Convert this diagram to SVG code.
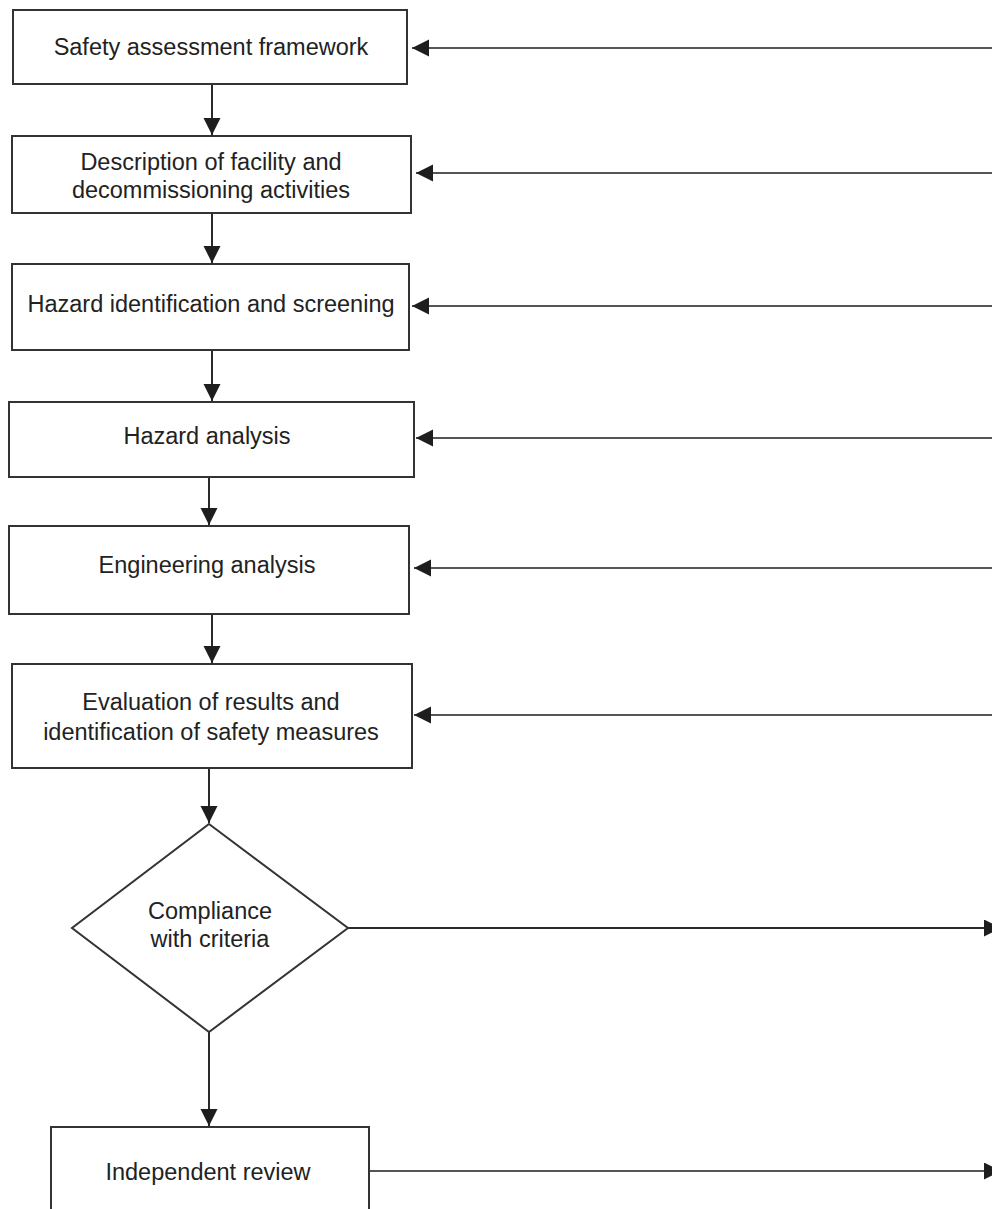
<svg xmlns="http://www.w3.org/2000/svg" width="992" height="1209" viewBox="0 0 992 1209">
  <style>
    .box { fill: #ffffff; stroke: #333333; stroke-width: 2; }
    .lbl { font-family: "Liberation Sans", Arial, sans-serif; font-size: 23.5px; fill: #222222; text-anchor: middle; }
    .wire { fill: none; stroke: #2a2a2a; stroke-width: 2; marker-end: url(#head); }
    .feed { fill: none; stroke: #555555; stroke-width: 2.2; marker-end: url(#head); }
  </style>
  <defs>
    <marker id="head" markerUnits="userSpaceOnUse" markerWidth="18" markerHeight="18" refX="17" refY="8.5" orient="auto">
      <path d="M0,0 L17,8.5 L0,17 z" fill="#1e1e1e"/>
    </marker>
  </defs>
  <rect width="992" height="1209" fill="#ffffff"/>

  <!-- flow connectors -->
  <g id="connectors">
    <line class="wire" x1="212" y1="84" x2="212" y2="135"/>
    <line class="wire" x1="212" y1="213" x2="212" y2="263"/>
    <line class="wire" x1="212" y1="350" x2="212" y2="401"/>
    <line class="wire" x1="209" y1="477" x2="209" y2="525"/>
    <line class="wire" x1="212" y1="614" x2="212" y2="663"/>
    <line class="wire" x1="209" y1="768" x2="209" y2="823"/>
    <line class="wire" x1="209" y1="1032" x2="209" y2="1126"/>
    <!-- feedback lines entering from the right -->
    <line class="feed" x1="1000" y1="48" x2="412" y2="48"/>
    <line class="feed" x1="1000" y1="173" x2="416" y2="173"/>
    <line class="feed" x1="1000" y1="306" x2="412" y2="306"/>
    <line class="feed" x1="1000" y1="438" x2="416" y2="438"/>
    <line class="feed" x1="1000" y1="568" x2="414" y2="568"/>
    <line class="feed" x1="1000" y1="715" x2="414" y2="715"/>
    <!-- outputs leaving to the right -->
    <line class="wire" x1="348" y1="928" x2="1001" y2="928"/>
    <line class="feed" x1="369" y1="1171" x2="1001" y2="1171"/>
  </g>

  <g id="n1">
    <rect class="box" x="13" y="10" width="394" height="74"/>
    <text class="lbl" x="211" y="55">Safety assessment framework</text>
  </g>
  <g id="n2">
    <rect class="box" x="12" y="136" width="399" height="77"/>
    <text class="lbl" x="211" y="170">Description of facility and</text>
    <text class="lbl" x="211" y="198">decommissioning activities</text>
  </g>
  <g id="n3">
    <rect class="box" x="12" y="264" width="397" height="86"/>
    <text class="lbl" x="211" y="312">Hazard identification and screening</text>
  </g>
  <g id="n4">
    <rect class="box" x="9" y="402" width="405" height="75"/>
    <text class="lbl" x="207" y="444">Hazard analysis</text>
  </g>
  <g id="n5">
    <rect class="box" x="9" y="526" width="400" height="88"/>
    <text class="lbl" x="207" y="573">Engineering analysis</text>
  </g>
  <g id="n6">
    <rect class="box" x="12" y="664" width="400" height="104"/>
    <text class="lbl" x="211" y="710">Evaluation of results and</text>
    <text class="lbl" x="211" y="740">identification of safety measures</text>
  </g>
  <g id="n7">
    <polygon class="box" points="209,824 348,928 209,1032 72,928"/>
    <text class="lbl" x="210" y="919">Compliance</text>
    <text class="lbl" x="210" y="947">with criteria</text>
  </g>
  <g id="n8">
    <rect class="box" x="51" y="1127" width="318" height="100"/>
    <text class="lbl" x="208" y="1180">Independent review</text>
  </g>
</svg>
